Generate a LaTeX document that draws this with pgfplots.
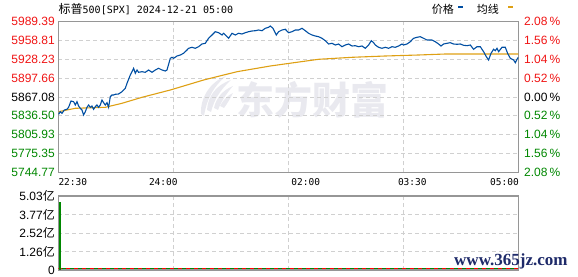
\documentclass[border=0pt]{standalone}
\usepackage{pgfplots}
\pgfplotsset{compat=1.18}
\usepackage{fontspec}
\setmainfont{Liberation Sans}
\newfontfamily\cjk{Noto Sans CJK SC}
\newfontfamily\monof{DejaVu Sans Mono}
\newfontfamily\serif{Liberation Serif}
\definecolor{pricebl}{RGB}{0,78,162}
\definecolor{avgor}{RGB}{222,160,20}
\definecolor{gridc}{RGB}{208,208,208}
\definecolor{framec}{RGB}{150,150,150}
\definecolor{upred}{RGB}{240,20,20}
\definecolor{dngr}{RGB}{0,135,0}
\definecolor{wm}{RGB}{233,233,239}
\definecolor{navy}{RGB}{30,42,105}
\pgfplotstableread{
x y
0.3 5838.98
2 5843.20
3.7 5840.60
6 5845.96
8.7 5847.10
10.3 5850.35
12.7 5860.58
15.3 5859.45
17 5854.09
18.7 5859.45
20.3 5852.46
22 5848.73
23.7 5845.96
25.3 5837.84
27 5843.20
28.7 5850.35
30.3 5854.09
32 5850.35
33.7 5852.46
35.3 5847.10
37 5851.32
38.7 5854.09
40.3 5850.35
42 5854.09
43.7 5862.21
45.3 5857.82
47 5854.09
48.7 5857.82
50.3 5850.35
52 5867.57
53.7 5870.33
55.3 5870.33
57 5871.47
60.3 5871.95
63.7 5875.69
67 5881.21
68.7 5889.33
70.3 5895.83
72 5902.81
73.7 5908.17
75.3 5913.70
77 5905.58
78.7 5910.94
80.3 5907.20
83.7 5908.17
87 5907.20
90.3 5910.94
93.7 5907.20
97 5910.94
100.3 5913.70
103.7 5910.94
107 5909.31
108.7 5910.94
112 5929.94
113.7 5931.56
115.3 5929.94
118.7 5933.68
122 5935.30
125.3 5938.06
128.7 5943.42
130.3 5946.18
133.7 5947.81
137 5946.18
140.3 5948.78
143.7 5953.17
147 5954.31
150.3 5962.43
153.7 5967.79
157 5973.15
160.3 5971.52
163.7 5967.79
165.3 5970.55
168.7 5965.03
170.3 5962.43
173.7 5970.55
177 5967.79
180.3 5970.55
183.7 5969.41
187 5971.52
190.3 5973.15
193.7 5974.28
197 5974.77
200.3 5975.91
203.7 5974.77
207 5978.67
210.3 5980.29
212 5982.41
214.7 5978.67
218 5967.79
220.3 5973.15
223.7 5975.91
227 5977.05
230.3 5971.52
233.7 5973.15
237 5975.91
240.3 5975.91
243.7 5978.67
247 5974.77
250.3 5970.55
253.7 5967.79
257 5966.16
260.3 5965.03
263.7 5962.43
267 5958.53
270.3 5953.17
273.7 5954.31
277 5951.54
280.3 5953.17
283.7 5948.78
287 5951.54
290.3 5953.17
293.7 5949.92
297 5950.41
300.3 5948.78
303.7 5949.92
307 5946.18
310.3 5951.54
313 5958.53
315.3 5955.28
317 5951.54
320.3 5947.81
323.7 5946.18
327 5947.81
330.3 5946.18
333.7 5948.78
337 5947.81
340.3 5949.92
343.7 5953.17
345.3 5951.54
348.7 5953.17
352 5956.90
355.3 5962.43
358.7 5964.05
362 5965.03
365.3 5962.43
368.7 5959.67
373.7 5959.67
377 5956.90
380.3 5953.17
382.7 5949.92
385.3 5953.17
388.7 5954.31
392 5955.28
395.3 5953.17
398.7 5952.68
402 5953.17
405.3 5951.06
408.7 5950.41
412 5951.54
415.3 5944.56
418.7 5948.78
422 5948.78
425.3 5940.66
428 5932.54
430.3 5927.18
432.7 5938.06
435.3 5944.56
437 5942.29
438.7 5946.18
440.3 5940.66
443.7 5947.81
447 5947.81
449.3 5938.06
452 5929.94
455.3 5927.18
457 5922.79
458.7 5928.32
460 5931.56
}\price
\pgfplotstableread{
x y
0.3 5843.20
17 5848.73
47 5850.35
63.7 5856.85
83.7 5866.59
112 5878.45
145.3 5894.69
178.7 5908.17
212 5917.43
231.3 5921.82
260.3 5928.32
293.7 5931.56
327 5933.68
360.3 5935.30
387 5936.92
460 5936.92
}\avgline
\begin{document}
\begin{tikzpicture}[x=1pt,y=1pt]
\useasboundingbox (0,0) rectangle (578,276);
% watermark
\node[anchor=base west, inner sep=0, text=wm] at (236,161.5) {\cjk\bfseries\fontsize{38}{38}\selectfont 东方财富};
\fill[wm] (201,162) .. controls (200,178) and (210,194) .. (226,200) .. controls (214,190) and (207,178) .. (204,160) -- cycle;
\fill[wm] (207,166) .. controls (208,180) and (216,191) .. (231,196) .. controls (220,186) and (214,176) .. (211,164) -- cycle;
\fill[wm] (214,168) .. controls (216,178) and (223,186) .. (233,190) .. controls (226,182) and (221,174) .. (218,166) -- cycle;
\fill[wm] (220,170) .. controls (223,176) and (228,181) .. (233,183) .. controls (230,177) and (227,172) .. (224,168) -- cycle;
\begin{axis}[at={(58.3pt,103.7pt)}, anchor=south west, width=460pt, height=150.6pt, scale only axis,
  xmin=0, xmax=460, ymin=5744.77, ymax=5989.39,
  xtick={115,230,345}, xticklabels={},
  ytick={5744.77,5775.35,5805.93,5836.50,5867.08,5897.66,5928.23,5958.81,5989.39},
  yticklabels={{\color{dngr}5744.77},{\color{dngr}5775.35},{\color{dngr}5805.93},{\color{dngr}5836.50},{\color{black}5867.08},{\color{upred}5897.66},{\color{upred}5928.23},{\color{upred}5958.81},{\color{upred}5989.39}},
  yticklabel style={font=\fontsize{12}{12}\selectfont, inner sep=0pt, xshift=-3.3pt},
  grid=major, major grid style={gridc, dash pattern=on 4pt off 3pt, line width=0.8pt},
  axis line style={framec, line width=1.2pt}, tick style={draw=none},
  clip=true]
\addplot[avgor, line width=1.1pt] table {\avgline};
\addplot[pricebl, line width=1.1pt] table {\price};
\end{axis}
% right percent labels
\begin{scope}[every node/.style={anchor=west, inner sep=0pt, font=\fontsize{12}{12}\selectfont}]
\node[text=upred] at (524,254.3) {2.08\,\%};
\node[text=upred] at (524,235.5) {1.56\,\%};
\node[text=upred] at (524,216.65) {1.04\,\%};
\node[text=upred] at (524,197.8) {0.52\,\%};
\node[text=black] at (524,179.0) {0.00\,\%};
\node[text=dngr] at (524,160.2) {0.52\,\%};
\node[text=dngr] at (524,141.35) {1.04\,\%};
\node[text=dngr] at (524,122.5) {1.56\,\%};
\node[text=dngr] at (524,103.7) {2.08\,\%};
\end{scope}
% time labels
\begin{scope}[every node/.style={inner sep=0pt, font=\monof\fontsize{9.5}{9.5}\selectfont}]
\node[anchor=west] at (58.3,93.5) {22:30};
\node at (163.3,93.5) {24:00};
\node at (305.7,93.5) {02:00};
\node at (412.3,93.5) {03:30};
\node[anchor=east] at (519,93.5) {05:00};
\end{scope}
% volume panel
\begin{axis}[at={(58.3pt,6pt)}, anchor=south west, width=460pt, height=74pt, scale only axis,
  xmin=0, xmax=460, ymin=0, ymax=5.03,
  xtick={115,230,345}, xticklabels={},
  ytick={0,1.26,2.52,3.77,5.03},
  yticklabels={0,1.26{\cjk 亿},2.52{\cjk 亿},3.77{\cjk 亿},5.03{\cjk 亿}},
  yticklabel style={font=\fontsize{12}{12}\selectfont, inner sep=0pt, xshift=-3.3pt},
  grid=major, major grid style={gridc, dash pattern=on 4pt off 3pt, line width=0.8pt},
  axis line style={framec, line width=1.2pt}, tick style={draw=none},
  clip=true]
\addplot[red, line width=1pt, dash pattern=on 4pt off 4pt] coordinates {(0,0.08) (460,0.08)};
\addplot[dngr, line width=1pt, dash pattern=on 4pt off 4pt, dash phase=4pt] coordinates {(0,0.08) (460,0.08)};
\addplot[dngr, line width=1.3pt] coordinates {(1.7,0) (1.7,4.64)};
\end{axis}
% title
\node[anchor=base west, inner sep=0] at (58.5,262) {{\cjk\fontsize{12}{12}\selectfont 标普}{\monof\fontsize{10}{10}\selectfont 500[SPX] 2024-12-21 05:00}};
% legend
\node[anchor=west, inner sep=0] at (431.7,266.8) {\cjk\fontsize{11}{11}\selectfont 价格};
\fill[pricebl] (458.3,267.7) rectangle (463.3,270);
\node[anchor=west, inner sep=0] at (476.7,266.8) {\cjk\fontsize{11}{11}\selectfont 均线};
\fill[avgor] (508.3,267.7) rectangle (513.3,270);
% site mark
\node[anchor=base west, inner sep=0, text=navy] at (454,11) {\serif\bfseries\fontsize{17}{17}\selectfont www.365jz.com};
\end{tikzpicture}
\end{document}
